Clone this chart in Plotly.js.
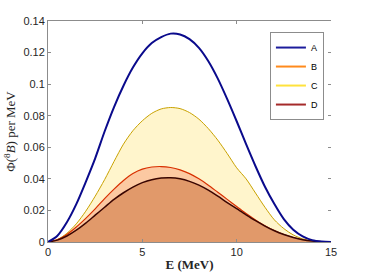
<!DOCTYPE html>
<html><head><meta charset="utf-8">
<script src="https://cdn.plot.ly/plotly-3.0.1.min.js"></script>
<style>html,body{margin:0;padding:0;background:#fff}#chart{width:366px;height:275px}</style>
</head><body><div id="chart"></div>
<script>
const energy = [0,0.5,1,1.5,2,2.5,3,3.5,4,4.5,5,5.5,6,6.5,7,7.5,8,8.5,9,9.5,10,10.5,11,11.5,12,12.5,13,13.5,14,14.5,15];
const seriesA = [0,0.004,0.0125,0.024,0.038,0.053,0.070,0.0855,0.099,0.1105,0.1195,0.126,0.1298,0.132,0.1315,0.1285,0.123,0.1145,0.1035,0.0905,0.0765,0.062,0.048,0.035,0.024,0.0145,0.0078,0.0036,0.0012,0.0003,0];
const seriesB = [0,0.0015,0.0048,0.0095,0.015,0.021,0.0275,0.0335,0.039,0.0434,0.0462,0.0475,0.0478,0.0472,0.0457,0.0433,0.040,0.036,0.0315,0.027,0.0225,0.018,0.014,0.0103,0.0072,0.0047,0.0028,0.0014,0.0006,0.0002,0];
const seriesC = [0,0.0015,0.0055,0.0115,0.0195,0.029,0.0395,0.051,0.062,0.0705,0.0768,0.0815,0.0843,0.0852,0.0845,0.082,0.0778,0.0718,0.0645,0.056,0.047,0.040,0.031,0.022,0.014,0.0085,0.0045,0.002,0.0007,0.0002,0];
const seriesD = [0,0.0012,0.0038,0.0075,0.012,0.017,0.022,0.027,0.0312,0.0348,0.0376,0.0395,0.0405,0.0407,0.040,0.0384,0.036,0.0328,0.029,0.025,0.0211,0.0172,0.0135,0.0101,0.0071,0.0047,0.0028,0.0014,0.0006,0.0002,0];
const names = ['A','B','C','D'];

const traces = [
  {x: energy, y: seriesC, type:'scatter', mode:'lines', fill:'tozeroy', fillcolor:'#fff5cc', line:{color:'#c9a200', width:1, shape:'spline', smoothing:0.8}, showlegend:false, hoverinfo:'skip'},
  {x: energy, y: seriesB, type:'scatter', mode:'lines', fill:'tozeroy', fillcolor:'#fcc9a2', line:{color:'#d83000', width:1.2, shape:'spline', smoothing:0.8}, showlegend:false, hoverinfo:'skip'},
  {x: energy, y: seriesD, type:'scatter', mode:'lines', fill:'tozeroy', fillcolor:'#e1996a', line:{color:'#3a0500', width:1.5, shape:'spline', smoothing:0.8}, showlegend:false, hoverinfo:'skip'},
  {x: energy, y: seriesA, type:'scatter', mode:'lines', line:{color:'#0a0a8c', width:2, shape:'spline', smoothing:0.8}, showlegend:false, hoverinfo:'skip'},
  {x:[null], y:[null], type:'scatter', mode:'lines', name:names[0], line:{color:'#1c1c9c', width:2}},
  {x:[null], y:[null], type:'scatter', mode:'lines', name:names[1], line:{color:'#ff8a1c', width:2}},
  {x:[null], y:[null], type:'scatter', mode:'lines', name:names[2], line:{color:'#ffe23c', width:2}},
  {x:[null], y:[null], type:'scatter', mode:'lines', name:names[3], line:{color:'#a52a2a', width:2}},
  {x:[null], y:[null], xaxis:'x2', yaxis:'y2', type:'scatter', mode:'lines', showlegend:false, hoverinfo:'skip'}
];

const tickFont = {family:'Liberation Sans, Arial, sans-serif', size:11, color:'#262626'};
const layout = {
  width:366, height:275,
  margin:{l:48, r:35, t:21, b:33},
  paper_bgcolor:'#fff', plot_bgcolor:'#fff',
  showlegend:true,
  legend:{x:0.975, xanchor:'right', y:0.95, yanchor:'top', bordercolor:'#8c8c8c', borderwidth:1, bgcolor:'#fff',
          font:{family:'Liberation Sans, Arial, sans-serif', size:9, color:'#000'}, itemwidth:30, tracegroupgap:0},
  xaxis:{range:[0,15], tickvals:[0,5,10,15], ticktext:['0','5','10','15'], ticks:'inside', ticklen:3, tickcolor:'#8c8c8c',
         showline:true, linecolor:'#8c8c8c', linewidth:1, showgrid:false, zeroline:false, tickfont:tickFont,
         title:{text:'<b>E (MeV)</b>', font:{family:'Liberation Serif, DejaVu Serif, serif', size:13, color:'#262626'}, standoff:2}},
  yaxis:{range:[0,0.14], tickvals:[0,0.02,0.04,0.06,0.08,0.1,0.12,0.14], ticktext:['0','0.02','0.04','0.06','0.08','0.1','0.12','0.14'],
         ticks:'inside', ticklen:3, tickcolor:'#8c8c8c', showline:true, linecolor:'#8c8c8c', linewidth:1, showgrid:false, zeroline:false,
         tickfont:tickFont,
         title:{text:'Φ(<sup>8</sup><i>B</i>) per MeV', font:{family:'Liberation Serif, DejaVu Serif, serif', size:13, color:'#262626'}, standoff:4}},
  xaxis2:{overlaying:'x', side:'top', anchor:'y2', range:[0,15], tickvals:[0,5,10,15], ticks:'inside', ticklen:3, tickcolor:'#8c8c8c',
          showticklabels:false, showline:true, linecolor:'#8c8c8c', linewidth:1, showgrid:false, zeroline:false},
  yaxis2:{overlaying:'y', side:'right', anchor:'x2', range:[0,0.14], tickvals:[0,0.02,0.04,0.06,0.08,0.1,0.12,0.14], ticks:'inside', ticklen:3, tickcolor:'#8c8c8c',
          showticklabels:false, showline:false, showgrid:false, zeroline:false}
};
Plotly.newPlot('chart', traces, layout, {staticPlot:true, displayModeBar:false});
</script>
</body></html>
